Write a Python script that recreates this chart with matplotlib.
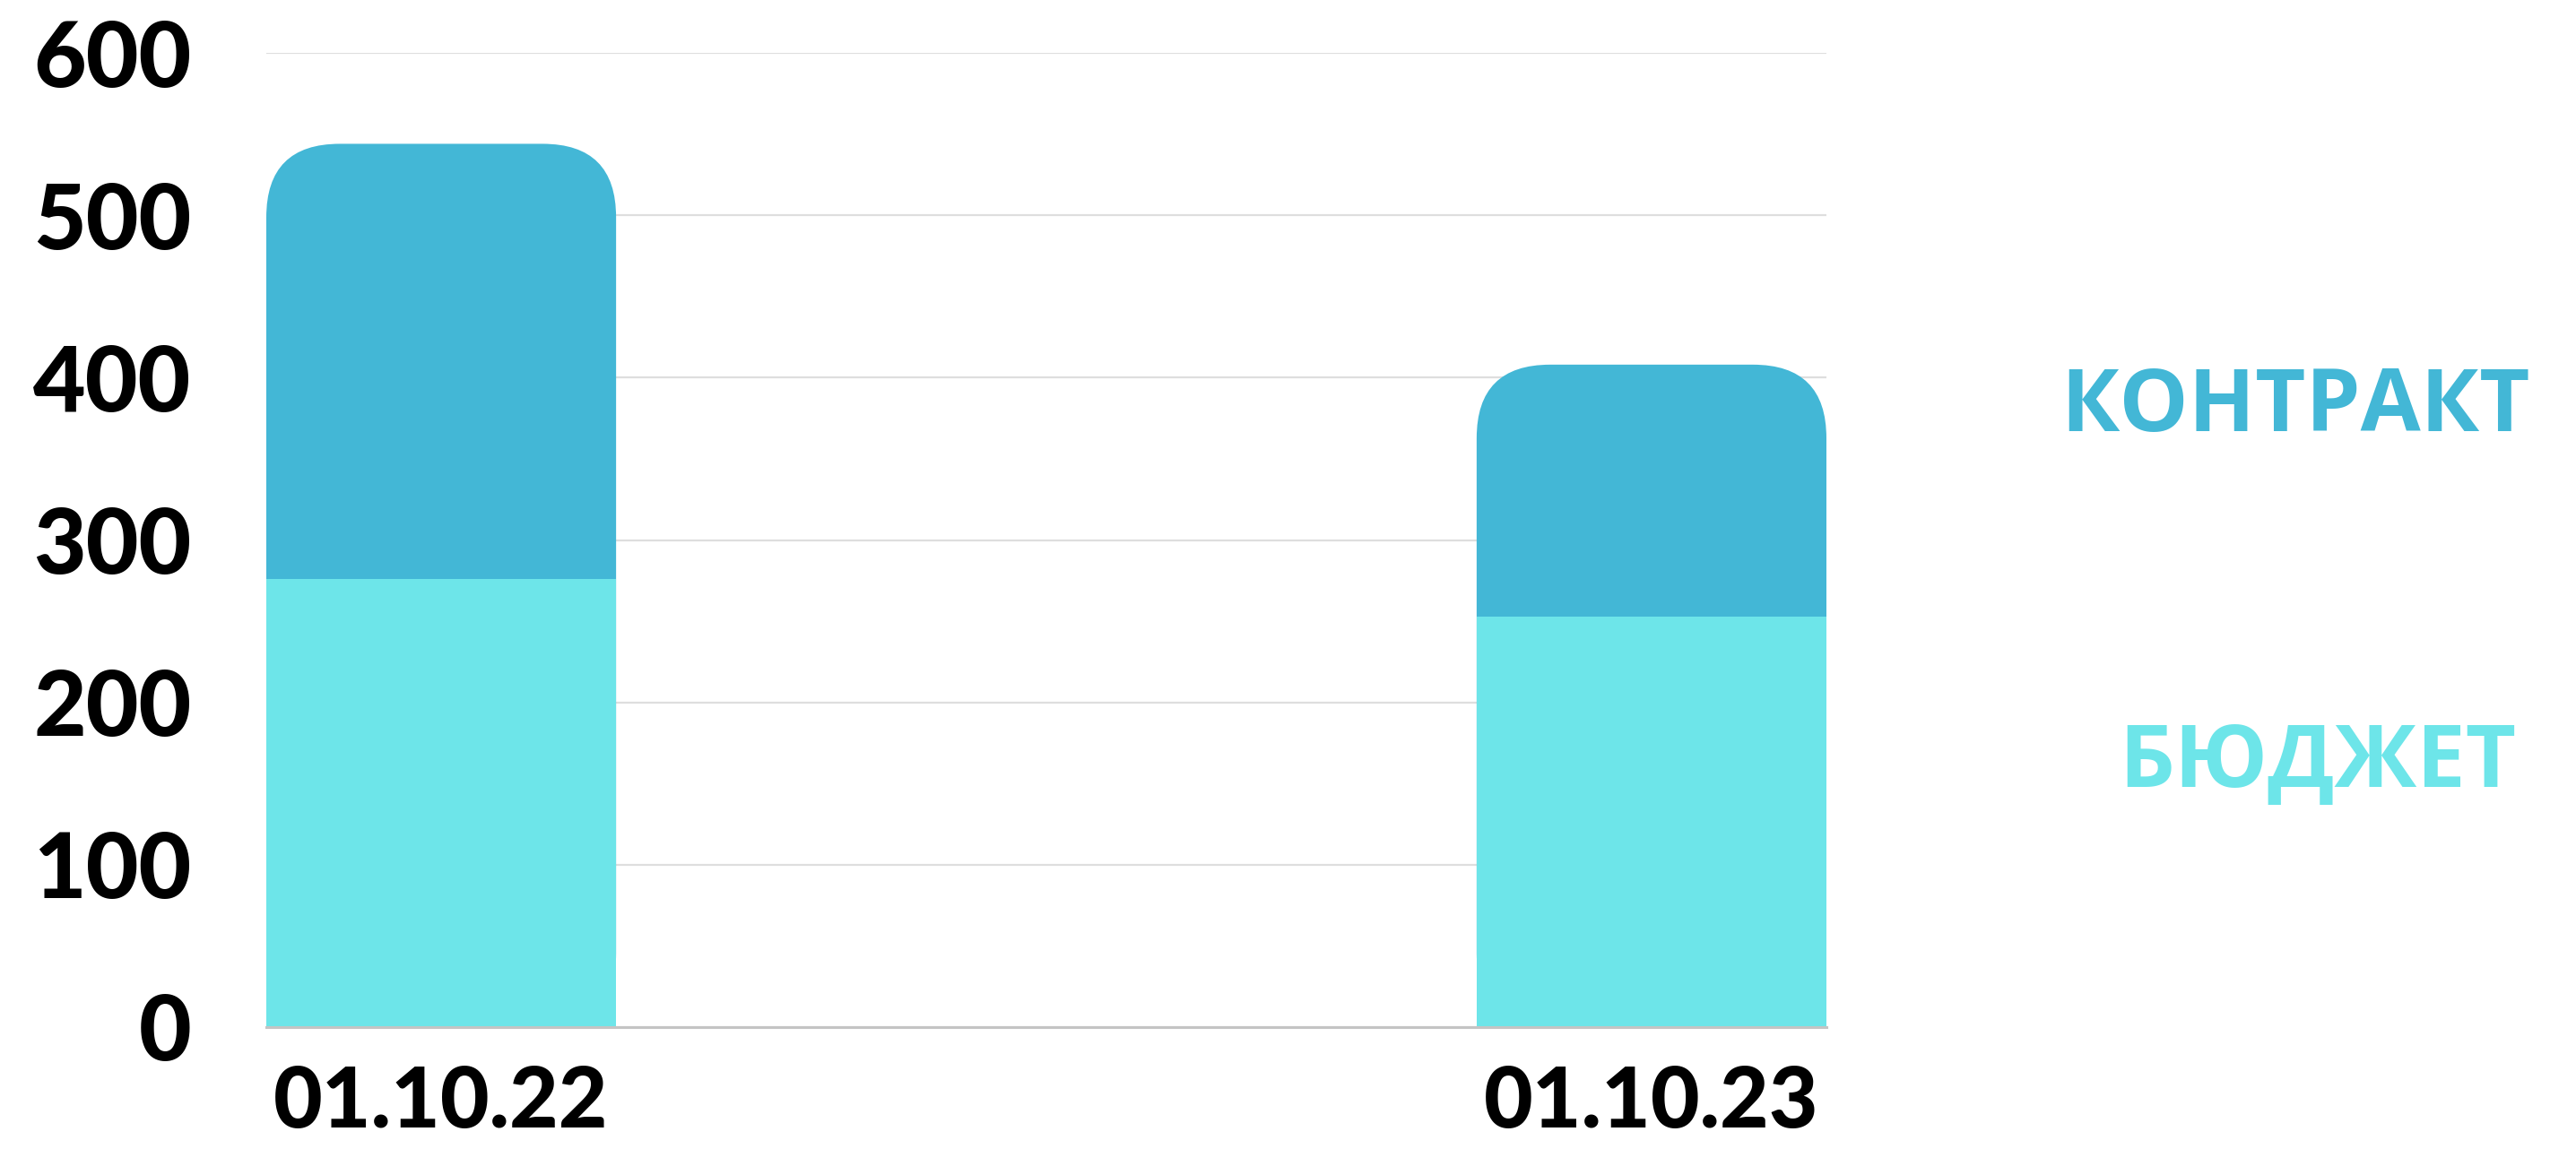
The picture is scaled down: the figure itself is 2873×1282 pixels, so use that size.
import numpy as np
import matplotlib
matplotlib.use('Agg')
import matplotlib.pyplot as plt
from matplotlib.patches import FancyBboxPatch

# ─── DATA ──────────────────────────────────────────────────────────────────────
dates    = ['01.10.22', '01.10.23']
budget   = [276, 253]
contract = [268, 155]
y_ticks  = [0, 100, 200, 300, 400, 500, 600]

COL_CONTRACT = '#43B7D6'
COL_BUDGET   = '#6DE5E9'
GRID_COL     = '#DEDEDE'

W_PX, H_PX, DPI = 2873, 1282, 100
BAR_W = 0.289
RADIUS_PX = 82

fig = plt.figure(figsize=(W_PX / DPI, H_PX / DPI), dpi=DPI)
ax = fig.add_axes([297 / W_PX, 1 - 1146 / H_PX, (2037 - 297) / W_PX, (1146 - 59) / H_PX])

x = np.arange(len(dates))
ax.set_xlim(x[0] - BAR_W / 2, x[-1] + BAR_W / 2)
ax.set_ylim(0, 600)

# data units per pixel, for circular corners
p0 = ax.transData.transform((0, 0))
p1 = ax.transData.transform((1, 100))
xu = 1.0 / (p1[0] - p0[0])
yu = 100.0 / (p1[1] - p0[1])

totals = np.array(budget) + np.array(contract)

# contract part: rounded top, bottom hidden behind budget bar
for xi, tot in zip(x, totals):
    patch = FancyBboxPatch((xi - BAR_W / 2, 0), BAR_W, tot,
                           boxstyle=f"round,pad=0,rounding_size={RADIUS_PX * xu}",
                           mutation_aspect=yu / xu,
                           fc=COL_CONTRACT, ec='none', zorder=3)
    ax.add_patch(patch)

ax.bar(x, budget, width=BAR_W, color=COL_BUDGET, zorder=4, linewidth=0)

# grid + axis styling
ax.set_yticks(y_ticks)
ax.set_xticks(x)
ax.set_xticklabels(dates)
ax.yaxis.grid(True, color=GRID_COL, linewidth=1.6, zorder=0)
ax.set_axisbelow(True)
for s in ['top', 'right', 'left']:
    ax.spines[s].set_visible(False)
ax.spines['bottom'].set_color('#C4C4C4')
ax.spines['bottom'].set_linewidth(2.2)
ax.spines['bottom'].set_zorder(5)

ax.tick_params(axis='both', length=0)
ax.tick_params(axis='y', pad=60)
ax.tick_params(axis='x', pad=30)
for lab in ax.get_yticklabels():
    lab.set_fontfamily(['Lato', 'DejaVu Sans'])
    lab.set_fontweight('black')
    lab.set_fontsize(73)
for lab in ax.get_xticklabels():
    lab.set_fontfamily(['Lato', 'DejaVu Sans'])
    lab.set_fontweight('black')
    lab.set_fontsize(68)

# side labels
side_font = dict(fontsize=70, fontweight='bold', family=['Open Sans', 'DejaVu Sans'],
                 ha='center', va='center')
fig.text(2560 / W_PX, 1 - 455 / H_PX, 'КОНТРАКТ', color=COL_CONTRACT, **side_font)
fig.text(2585 / W_PX, 1 - 852 / H_PX, 'БЮДЖЕТ', color=COL_BUDGET, **side_font)

fig.savefig('out.png', dpi=DPI, facecolor='white')
